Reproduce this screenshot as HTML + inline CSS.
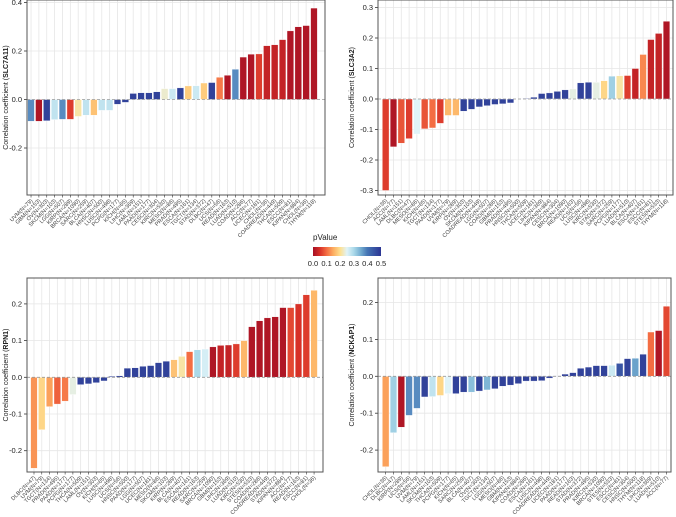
<!DOCTYPE html>
<html><head><meta charset="utf-8"><style>
html,body{margin:0;padding:0;background:#fff;width:676px;height:517px;overflow:hidden}
svg{display:block;font-family:"Liberation Sans",sans-serif}
</style></head><body>
<svg id="chart" width="676" height="517" viewBox="0 0 676 517">
<defs>
<linearGradient id="pgrad" x1="0" x2="1" y1="0" y2="0">
<stop offset="0" stop-color="#a50f25"/><stop offset="0.1" stop-color="#d73027"/><stop offset="0.2" stop-color="#f46d43"/><stop offset="0.3" stop-color="#fdae61"/><stop offset="0.4" stop-color="#fee090"/><stop offset="0.5" stop-color="#e0f3f8"/><stop offset="0.6" stop-color="#abd9e9"/><stop offset="0.7" stop-color="#74add1"/><stop offset="0.8" stop-color="#4575b4"/><stop offset="1" stop-color="#2c3594"/>
</linearGradient>
</defs>
<g>
<text x="313" y="240" font-size="8" fill="#222">pValue</text>
<rect x="313" y="247" width="68" height="9" fill="url(#pgrad)"/>
<g font-size="7.5" fill="#222" text-anchor="middle">
<text x="313" y="266">0.0</text><text x="326.6" y="266">0.1</text><text x="340.2" y="266">0.2</text><text x="353.8" y="266">0.3</text><text x="367.4" y="266">0.4</text><text x="381" y="266">0.5</text>
</g>
</g>
</svg>
<script>
// Panel 1: SLC7A11
const labels1 = ["UVM(N=79)","GBM(N=153)","OV(N=303)","SKCM(N=103)","LGG(N=507)","KIRP(N=289)","BRCA(N=1090)","SARC(N=259)","BLCA(N=407)","HNSC(N=500)","LUSC(N=498)","PCPG(N=177)","KICH(N=65)","LIHC(N=369)","LAML(N=151)","PAAD(N=177)","CESC(N=304)","KIRC(N=530)","MESO(N=86)","PRAD(N=495)","ESCA(N=161)","TGCT(N=134)","STAD(N=372)","DLBC(N=47)","UCS(N=56)","READ(N=163)","LUAD(N=510)","COAD(N=286)","ACC(N=77)","UCEC(N=181)","CHOL(N=36)","COADREAD(N=449)","THCA(N=509)","ESCC(N=81)","KIPAN(N=884)","CHOL(N=36)","THYM(N=118)"];
const values1 = [-0.09,-0.09,-0.088,-0.083,-0.082,-0.082,-0.07,-0.065,-0.065,-0.045,-0.045,-0.02,-0.012,0.025,0.028,0.028,0.032,0.045,0.045,0.048,0.056,0.057,0.068,0.07,0.092,0.10,0.125,0.175,0.187,0.188,0.222,0.226,0.247,0.283,0.30,0.305,0.377];
const pvals1 = [0.38,0.01,0.48,0.28,0.38,0.06,0.21,0.28,0.17,0.28,0.28,0.48,0.48,0.48,0.48,0.48,0.48,0.23,0.27,0.48,0.18,0.27,0.18,0.48,0.11,0.01,0.38,0.01,0.01,0.06,0.03,0.03,0.03,0.01,0.01,0.01,0.01];
const ticks1 = [-0.2,0.0,0.2,0.4];
const tickLabels1 = ["-0.2","0.0","0.2","0.4"];

// Panel 2: SLC3A2
const labels2 = ["CHOL(N=36)","ACC(N=77)","LAML(N=151)","DLBC(N=47)","MESO(N=86)","KICH(N=65)","TGCT(N=134)","PAAD(N=177)","UVM(N=79)","KIRP(N=289)","OV(N=303)","SKCM(N=103)","COADREAD(N=449)","LGG(N=507)","COAD(N=286)","GBM(N=153)","PRAD(N=495)","HNSC(N=500)","THCA(N=509)","UCEC(N=181)","LIHC(N=369)","KIPAN(N=884)","CESC(N=304)","BRCA(N=1090)","READ(N=163)","UCS(N=56)","LUSC(N=498)","KIRC(N=530)","STAD(N=372)","SARC(N=259)","PCPG(N=177)","LUAD(N=510)","BLCA(N=407)","ESCA(N=161)","ESCC(N=81)","STES(N=533)","THYM(N=118)"];
const values2 = [-0.30,-0.157,-0.145,-0.13,-0.115,-0.098,-0.095,-0.08,-0.054,-0.054,-0.04,-0.034,-0.026,-0.022,-0.018,-0.016,-0.013,0.001,0.002,0.006,0.018,0.02,0.025,0.03,0.033,0.053,0.055,0.055,0.06,0.075,0.076,0.077,0.10,0.146,0.195,0.215,0.255];
const pvals2 = [0.06,0.01,0.08,0.06,0.25,0.08,0.1,0.06,0.16,0.16,0.48,0.48,0.48,0.48,0.48,0.48,0.48,0.48,0.48,0.48,0.48,0.48,0.48,0.48,0.24,0.48,0.48,0.24,0.19,0.31,0.21,0.06,0.03,0.12,0.03,0.03,0.01];
const ticks2 = [-0.3,-0.2,-0.1,0.0,0.1,0.2,0.3];
const tickLabels2 = ["-0.3","-0.2","-0.1","0.0","0.1","0.2","0.3"];

// Panel 3: RPN1
const labels3 = ["DLBC(N=47)","UVM(N=79)","TGCT(N=134)","PRAD(N=495)","PAAD(N=177)","PCPG(N=177)","THCA(N=509)","LAML(N=151)","OV(N=303)","KICH(N=65)","LUSC(N=498)","UCS(N=56)","HNSC(N=500)","PAAD(N=177)","LGG(N=507)","UCEC(N=181)","MESO(N=86)","SKCM(N=103)","KIRP(N=289)","BLCA(N=407)","ESCA(N=161)","READ(N=163)","SARC(N=259)","BRCA(N=1090)","GBM(N=153)","LIHC(N=369)","LUAD(N=510)","KIRC(N=530)","STES(N=533)","COAD(N=286)","COADREAD(N=449)","STAD(N=372)","KIPAN(N=884)","ACC(N=77)","READ(N=163)","ESCC(N=81)","CHOL(N=36)"];
const values3 = [-0.248,-0.143,-0.08,-0.073,-0.065,-0.047,-0.02,-0.018,-0.015,-0.01,0.003,0.004,0.025,0.026,0.03,0.032,0.04,0.044,0.048,0.057,0.07,0.075,0.077,0.083,0.087,0.088,0.091,0.10,0.138,0.154,0.162,0.165,0.19,0.19,0.20,0.225,0.237];
const pvals3 = [0.13,0.19,0.14,0.09,0.11,0.24,0.48,0.48,0.48,0.48,0.48,0.48,0.48,0.48,0.48,0.48,0.48,0.48,0.17,0.21,0.1,0.3,0.26,0.01,0.03,0.03,0.06,0.16,0.01,0.01,0.01,0.01,0.01,0.07,0.05,0.06,0.16];
const ticks3 = [-0.2,-0.1,0.0,0.1,0.2];
const tickLabels3 = ["-0.2","-0.1","0.0","0.1","0.2"];

// Panel 4: NCKAP1
const labels4 = ["CHOL(N=36)","DLBC(N=47)","KIRP(N=289)","UCS(N=56)","UVM(N=79)","LAML(N=151)","SKCM(N=103)","THCA(N=509)","PCPG(N=177)","KICH(N=65)","SARC(N=259)","BLCA(N=407)","OV(N=303)","TGCT(N=134)","LGG(N=507)","MESO(N=86)","GBM(N=153)","KIPAN(N=884)","COAD(N=286)","ESCA(N=161)","LUSC(N=498)","COADREAD(N=449)","UCEC(N=181)","PAAD(N=177)","READ(N=163)","STAD(N=372)","PRAD(N=495)","KIRC(N=530)","BRCA(N=1090)","STES(N=533)","ESCC(N=81)","CESC(N=304)","HNSC(N=500)","THYM(N=118)","LIHC(N=369)","LUAD(N=510)","ACC(N=77)"];
const values4 = [-0.245,-0.153,-0.138,-0.106,-0.087,-0.056,-0.055,-0.052,-0.047,-0.047,-0.043,-0.043,-0.04,-0.037,-0.034,-0.027,-0.024,-0.02,-0.013,-0.013,-0.012,-0.005,0.001,0.006,0.01,0.022,0.025,0.029,0.029,0.03,0.035,0.048,0.049,0.06,0.12,0.124,0.19];
const pvals4 = [0.14,0.31,0.01,0.38,0.38,0.48,0.28,0.19,0.25,0.48,0.48,0.33,0.48,0.34,0.48,0.48,0.48,0.48,0.48,0.48,0.48,0.48,0.48,0.48,0.48,0.48,0.48,0.48,0.48,0.27,0.45,0.48,0.36,0.48,0.1,0.01,0.07];
const ticks4 = [-0.2,-0.1,0.0,0.1,0.2];
const tickLabels4 = ["-0.2","-0.1","0.0","0.1","0.2"];

const NS = "http://www.w3.org/2000/svg";
const svg = document.getElementById("chart");
const stops = [[0,[165,15,37]],[0.05,[215,48,39]],[0.1,[244,109,67]],[0.15,[253,174,97]],[0.2,[254,224,144]],[0.25,[224,243,248]],[0.3,[171,217,233]],[0.35,[116,173,209]],[0.4,[69,117,180]],[0.5,[44,53,148]]];
function pColor(p){
  p=Math.max(0,Math.min(0.5,p));
  for(let i=1;i<stops.length;i++){
    if(p<=stops[i][0]){
      const t=(p-stops[i-1][0])/(stops[i][0]-stops[i-1][0]);
      const a=stops[i-1][1],b=stops[i][1];
      return "rgb("+a.map((v,k)=>Math.round(v+(b[k]-v)*t)).join(",")+")";
    }
  }
  return "rgb(44,53,148)";
}
function mk(tag,attrs,parent){const e=document.createElementNS(NS,tag);for(const k in attrs)e.setAttribute(k,attrs[k]);parent.appendChild(e);return e;}

const panels = [
 {id:"slc7a11",title:"SLC7A11",labels:labels1,values:values1,pvals:pvals1,ticks:ticks1,tl:tickLabels1,L:27,R:325,T:0,B:195,zeroY:99.5,scale:242.5,x0:27.1,step:7.86,titleX:8},
 {id:"slc3a2",title:"SLC3A2",labels:labels2,values:values2,pvals:pvals2,ticks:ticks2,tl:tickLabels2,L:378,R:673,T:0,B:195,zeroY:99,scale:305,x0:381.8,step:7.8,titleX:354},
 {id:"rpn1",title:"RPN1",labels:labels3,values:values3,pvals:pvals3,ticks:ticks3,tl:tickLabels3,L:27,R:323,T:278,B:472,zeroY:377.3,scale:367,x0:30.1,step:7.78,titleX:8},
 {id:"nckap1",title:"NCKAP1",labels:labels4,values:values4,pvals:pvals4,ticks:ticks4,tl:tickLabels4,L:378,R:671,T:278,B:472,zeroY:376.3,scale:369,x0:381.8,step:7.8,titleX:354}
];

panels.forEach(P=>{
  const g=mk("g",{},svg);
  
  
  const y=v=>P.zeroY - v*P.scale;
  const x=i=>P.x0 + (i+0.5)*P.step;
  // grid
  P.labels.forEach((l,i)=>{
    const gl=mk("line",{x1:x(i),x2:x(i),y1:P.T,y2:P.B,stroke:"#e6e6e6","stroke-width":0.8},g);
    
    
  });
  P.ticks.forEach((t,k)=>{
    const yy=y(t);
    if(t!==0){
      const hl=mk("line",{x1:P.L,x2:P.R,y1:yy,y2:yy,stroke:"#e6e6e6","stroke-width":0.8},g);
      
      
    }
    const tk=mk("line",{x1:P.L-3,x2:P.L,y1:yy,y2:yy,stroke:"#333","stroke-width":0.8},g);
    
    
    const tx=mk("text",{x:P.L-5,y:yy+2.5,"font-size":7.5,"text-anchor":"end",fill:"#222"},g);
    tx.textContent=P.tl[k];
    
    
  });
  // bars
  P.values.forEach((v,i)=>{
    const w=P.step*0.86;
    const y1=Math.min(y(v),y(0)),h=Math.abs(y(v)-y(0));
    const r=mk("rect",{x:x(i)-w/2,y:y1,width:w,height:Math.max(h,0.3),fill:pColor(P.pvals[i]),stroke:"#fff","stroke-width":0.4},g);
    
    
  });
  // zero line
  const z=mk("line",{x1:P.L,x2:P.R,y1:y(0),y2:y(0),stroke:"#999","stroke-width":0.8,"stroke-dasharray":"3,2"},g);
  
  
  // frame
  const fr=mk("rect",{x:P.L,y:P.T,width:P.R-P.L,height:P.B-P.T,fill:"none",stroke:"#555","stroke-width":1},g);
  
  
  // x labels
  P.labels.forEach((l,i)=>{
    const tk=mk("line",{x1:x(i),x2:x(i),y1:P.B,y2:P.B+2.5,stroke:"#333","stroke-width":0.6},g);
    
    
    const t=mk("text",{x:x(i)+2,y:P.B+6,"font-size":5.6,"text-anchor":"end",fill:"#444",transform:"rotate(-45 "+(x(i)+2)+" "+(P.B+6)+")"},g);
    t.textContent=l;
    
    
  });
  // y title
  const cy=(P.T+P.B)/2;
  const yt=mk("text",{x:P.titleX,y:cy,"font-size":7,"text-anchor":"middle",fill:"#222",transform:"rotate(-90 "+P.titleX+" "+cy+")"},g);
  yt.innerHTML='Correlation coefficient (<tspan font-weight="bold">'+P.title+'</tspan>)';
  
  
});
</script>
</body></html>
